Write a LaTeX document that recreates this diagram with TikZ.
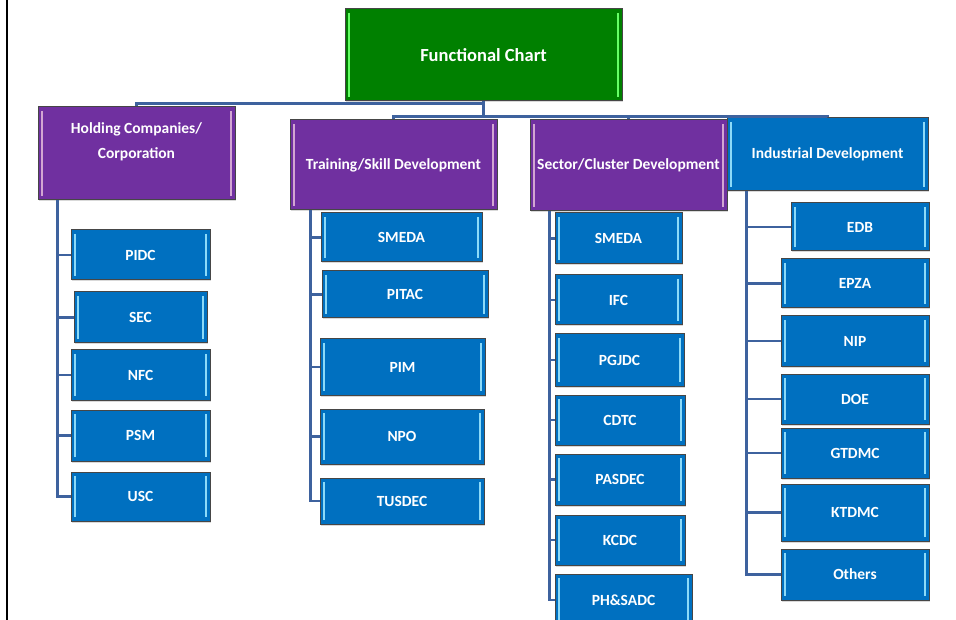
\documentclass[tikz,border=0pt]{standalone}
\usepackage{fontspec}
\setmainfont{Carlito}
\usepackage{xcolor}
\usepackage{tikz}
\usetikzlibrary{positioning,shadows}

\definecolor{rootgreen}{RGB}{0,128,0}
\definecolor{grouppurple}{RGB}{112,48,160}
\definecolor{unitblue}{RGB}{0,112,192}
\definecolor{linkblue}{RGB}{62,98,158}
\definecolor{edgegray}{RGB}{70,70,70}

\begin{document}
\begin{tikzpicture}[
  x=1pt, y=-1pt,
  bevel/.style={path picture={
    \draw[#1, line width=1.3pt]
      ([xshift=4pt,yshift=-4pt]path picture bounding box.north west) -- ([xshift=4pt,yshift=4pt]path picture bounding box.south west)
      ([xshift=-4pt,yshift=-4pt]path picture bounding box.north east) -- ([xshift=-4pt,yshift=4pt]path picture bounding box.south east);}},
  anybox/.style={draw=edgegray, line width=1pt, text=white, inner sep=1pt, align=center,
    font=\bfseries\fontsize{15.5}{25}\selectfont,
    drop shadow={opacity=0.3, shadow xshift=1.2pt, shadow yshift=-1.5pt}},
  rootbox/.style={anybox, fill=rootgreen, bevel=green!60!white, minimum width=277pt, minimum height=92pt,
    font=\bfseries\fontsize{18.5}{22}\selectfont},
  groupbox/.style={anybox, fill=grouppurple, bevel=violet!35!white},
  unitbox/.style={anybox, fill=unitblue, bevel=cyan!45!white},
  link/.style={draw=linkblue, line width=2.4pt}
]
  \useasboundingbox (0,0) rectangle (956,620);
  \draw[line width=2pt] (6.5,0) -- (6.5,620);

  % Top level
  \node[rootbox] (root) at (483.5,55) {Functional Chart};

  % Four groups
  \node[groupbox, minimum width=197pt, minimum height=93pt] (hold) at (136.5,153.5) {Holding Companies/\\Corporation\\\mbox{}};
  \node[groupbox, minimum width=207pt, minimum height=90pt] (train) at (393.5,165) {Training/Skill Development};
  \node[groupbox, minimum width=197pt, minimum height=91pt] (sect) at (628.5,165.5) {Sector/Cluster Development};
  \node[unitbox, minimum width=201pt, minimum height=73pt] (ind) at (827.5,154.5) {Industrial Development};

  \draw[link] (root.south) -- ++(0,2) -| (hold.north);
  \draw[link] (root.south) -- ++(0,15) coordinate (bus) -| (train.north);
  \draw[link] (bus) -| (sect.north);
  \draw[link] (bus) -| (ind.north);

  % Units under each group
  \foreach \id/\txt/\x/\y/\w/\h in {
      pidc/PIDC/140.5/255/139/50, sec/SEC/140.5/317.5/133/51, nfc/NFC/140.5/375/139/50,
      psm/PSM/140.5/435.5/139/51, usc/USC/140.5/496.5/139/49,
      smedaA/SMEDA/401.5/237.5/161/49, pitac/PITAC/405/294.5/166/47, pim/PIM/402.5/367/165/56,
      npo/NPO/402/436.5/164/55, tusdec/TUSDEC/402/501/164/46,
      smedaB/SMEDA/618.5/238.5/127/51, ifc/IFC/618.5/300/127/50, pgjdc/PGJDC/619.5/360/129/52,
      cdtc/CDTC/620/420/130/50, pasdec/PASDEC/620/479.5/130/51, kcdc/KCDC/620/540/130/50,
      phsadc/PH\&SADC/623.5/600/137/52,
      edb/EDB/860/227/138/48, epza/EPZA/855/283.5/148/49, nip/NIP/855/341/148/50,
      doe/DOE/855/399/148/50, gtdmc/GTDMC/855/453/148/50, ktdmc/KTDMC/855/512.5/148/57,
      others/Others/855/574.5/148/51}
    \node[unitbox, minimum width=\w pt, minimum height=\h pt] (\id) at (\x,\y) {\txt};

  \foreach \id in {pidc,sec,nfc,psm,usc}
    \draw[link] ([xshift=20pt]hold.south west) |- (\id.west);
  \foreach \id in {smedaA,pitac,pim,npo,tusdec}
    \draw[link] ([xshift=21pt]train.south west) |- (\id.west);
  \foreach \id in {smedaB,ifc,pgjdc,cdtc,pasdec,kcdc,phsadc}
    \draw[link] ([xshift=20pt]sect.south west) |- (\id.west);
  \foreach \id in {edb,epza,nip,doe,gtdmc,ktdmc,others}
    \draw[link] ([xshift=20pt]ind.south west) |- (\id.west);
\end{tikzpicture}
\end{document}
